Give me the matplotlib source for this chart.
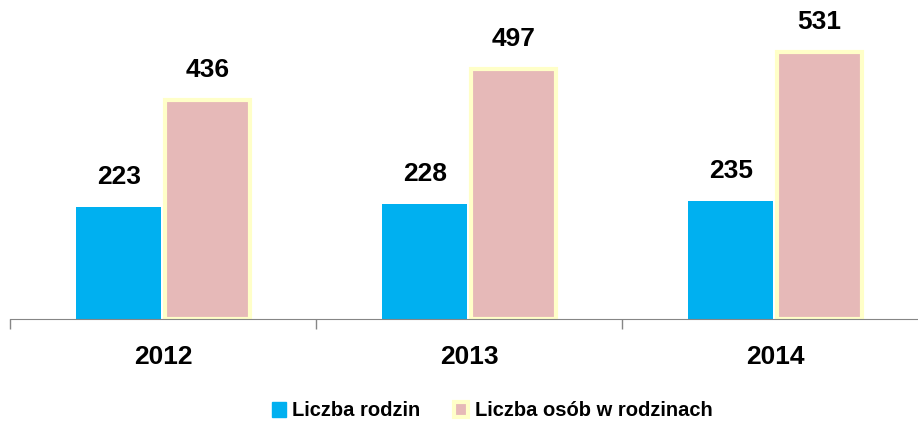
import numpy as np
import matplotlib.pyplot as plt
from matplotlib.patches import Patch

# dane
lata = ['2012', '2013', '2014']
liczba_rodzin = [223, 228, 235]
liczba_osob = [436, 497, 531]

plt.rcParams['font.family'] = ['Liberation Sans', 'DejaVu Sans']
plt.rcParams['font.weight'] = 'bold'

kolor_rodzin = '#00B0F0'
kolor_osob = '#E6B9B8'
kolor_ramki = '#FFFFC8'

fig = plt.figure(figsize=(9.18, 4.22), dpi=100)
# os wychodzi troche poza prawa krawedz, jak w oryginale
ax = fig.add_axes([10 / 918, 103 / 422, 918 / 918, 319 / 422])

x = np.arange(len(lata))
w = 0.28
b1 = ax.bar(x - 0.145, liczba_rodzin, w, color=kolor_rodzin)
b2 = ax.bar(x + 0.145, liczba_osob, w, color=kolor_osob,
            edgecolor=kolor_ramki, linewidth=3)

for rects, vals in [(b1, liczba_rodzin), (b2, liczba_osob)]:
    for r, v in zip(rects, vals):
        ax.annotate(str(v), (r.get_x() + r.get_width() / 2, v),
                    xytext=(0, 13), textcoords='offset points',
                    ha='center', va='bottom', fontsize=19, fontweight='bold')

ax.set_xlim(-0.5, 2.5)
ax.set_ylim(0, 635)
ax.set_xticks(x)
ax.set_xticklabels(lata, fontsize=19, fontweight='bold')
ax.set_xticks([-0.5, 0.5, 1.5, 2.5], minor=True)
ax.tick_params(axis='x', which='major', length=0, pad=19)
ax.tick_params(axis='x', which='minor', length=7, color='#868686', width=1)
ax.set_yticks([])
for s in ['top', 'right', 'left']:
    ax.spines[s].set_visible(False)
ax.spines['bottom'].set_color('#868686')

uchwyty = [Patch(facecolor=kolor_rodzin, edgecolor=kolor_rodzin),
           Patch(facecolor=kolor_osob, edgecolor=kolor_ramki, linewidth=3)]
fig.legend(uchwyty, ['Liczba rodzin', 'Liczba osób w rodzinach'],
           loc='center', bbox_to_anchor=(492 / 918, 11 / 422), ncol=2, frameon=False,
           prop={'size': 14.5, 'weight': 'bold'}, handlelength=0.7,
           handleheight=0.7, handletextpad=0.3, columnspacing=1.7)

fig.savefig('out.png', dpi=100)
